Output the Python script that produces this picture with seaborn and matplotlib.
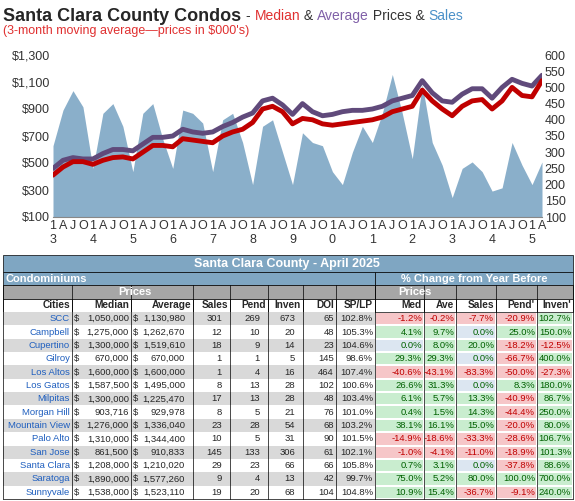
import matplotlib
matplotlib.use("Agg")
import matplotlib.pyplot as plt
import seaborn as sns
import numpy as np
import pandas as pd
from matplotlib.patches import Rectangle

# quarterly readings, Jan 2013 .. Apr 2025
median = [410, 470, 510, 510, 490, 520, 540, 545, 530, 580, 630, 630,
          620, 680, 670, 660, 650, 700, 730, 750, 800, 900, 920, 880,
          790, 830, 820, 790, 780, 790, 800, 810, 820, 840, 880, 900,
          920, 1040, 960, 900, 850, 920, 960, 970, 900, 960, 1060, 1000,
          990, 1110]
average = [460, 520, 540, 530, 530, 570, 600, 600, 590, 640, 690, 690,
           700, 750, 730, 720, 730, 770, 800, 840, 870, 960, 980, 930,
           860, 940, 880, 850, 860, 880, 890, 890, 900, 920, 960, 980,
           1000, 1110, 1020, 960, 950, 1010, 1050, 1050, 980, 1060, 1120, 1090,
           1070, 1150]
sales = [320, 430, 490, 440, 250, 420, 450, 380, 240, 420, 450, 340,
         250, 430, 420, 390, 240, 400, 420, 330, 200, 380, 400, 300,
         200, 360, 330, 320, 240, 200, 300, 380, 330, 420, 540, 420,
         280, 510, 330, 260, 160, 250, 270, 240, 180, 190, 330, 260,
         200, 270]
quarter_labels = ["1", "A", "J", "O"]
years = ["3", "4", "5", "6", "7", "8", "9", "0", "1", "2", "3", "4", "5"]

cities = ["SCC", "Campbell", "Cupertino", "Gilroy", "Los Altos", "Los Gatos", "Milpitas",
          "Morgan Hill", "Mountain View", "Palo Alto", "San Jose", "Santa Clara",
          "Saratoga", "Sunnyvale"]
med_price = [1050000, 1275000, 1300000, 670000, 1600000, 1587500, 1300000, 903716,
             1276000, 1310000, 861500, 1208000, 1890000, 1538000]
avg_price = [1130980, 1262670, 1519610, 670000, 1600000, 1495000, 1225470, 929978,
             1336040, 1344400, 910833, 1210020, 1577260, 1523110]
n_sales = [301, 12, 18, 1, 1, 8, 17, 8, 23, 10, 145, 29, 9, 19]
pend = [269, 10, 9, 1, 4, 13, 13, 5, 28, 5, 133, 23, 4, 20]
inven = [673, 20, 14, 5, 16, 28, 28, 21, 54, 31, 306, 66, 13, 68]
doi = [65, 48, 23, 145, 464, 102, 48, 76, 68, 90, 61, 66, 42, 104]
sp_lp = [102.8, 105.3, 104.6, 98.6, 107.4, 100.6, 103.4, 101.0, 103.2, 101.5, 102.1, 105.8, 99.7, 104.8]
chg_med = [-1.2, 4.1, 0.0, 29.3, -40.6, 26.6, 6.1, 0.4, 38.1, -14.9, -1.0, 0.7, 75.0, 10.9]
chg_ave = [-0.2, 9.7, 8.0, 29.3, -43.1, 31.3, 5.7, 1.5, 16.1, -18.6, -4.1, 3.1, 5.2, 15.4]
chg_sales = [-7.7, 0.0, 20.0, 0.0, -83.3, 0.0, 13.3, 14.3, 15.0, -33.3, -11.0, 0.0, 80.0, -36.7]
chg_pend = [-20.9, 25.0, -18.2, -66.7, -50.0, 8.3, -40.9, -44.4, -20.0, -28.6, -18.9, -37.8, 100.0, -9.1]
chg_inven = [102.7, 150.0, -12.5, 400.0, -27.3, 180.0, 86.7, 250.0, 80.0, 106.7, 101.3, 88.6, 700.0, 240.0]

sns.set_style("white")
plt.rcParams['font.family'] = ['Liberation Sans', 'DejaVu Sans']

fig = plt.figure(figsize=(5.75, 5.01), dpi=100)

# ---- background axes in pixel coords (titles + table)
bg = fig.add_axes([0, 0, 1, 1])
bg.set_xlim(0, 575)
bg.set_ylim(501, 0)
bg.axis("off")

bg.text(3, 16, "Santa Clara County Condos", fontsize=13, fontweight="bold", va="center")
x = 246
for s, c in [("- ", "#333333"), ("Median", "#e03030"), (" & ", "#333333"), ("Average", "#8060a8"),
             (" Prices & ", "#333333"), ("Sales", "#4a90c8")]:
    t = bg.text(x, 16, s, fontsize=10, va="center", color=c)
    fig.canvas.draw()
    x += t.get_window_extent().width
bg.text(3, 31, "(3-month moving average\u2014prices in $000's)", fontsize=9,
        va="center", color="#e03030")

# ---- chart
n = len(median)
df = pd.DataFrame({"q": np.arange(n), "median": median, "average": average, "sales": sales})

ax = fig.add_axes([53 / 575, 1 - 217 / 501, 489 / 575, 162 / 501])
ax2 = ax.twinx()
ax2.fill_between(df["q"], 100, df["sales"], color="#8aafca", lw=0)
ax2.set_ylim(100, 600)
ax2.set_yticks(range(100, 601, 50))
ax2.tick_params(axis="y", labelsize=9, colors="#333333", length=0, pad=2)
ax.set_zorder(ax2.get_zorder() + 1)
ax.patch.set_visible(False)

sns.lineplot(data=df, x="q", y="average", ax=ax, color="#604a7b", lw=3.5)
sns.lineplot(data=df, x="q", y="median", ax=ax, color="#c00000", lw=3.5)
ax.set_ylim(100, 1300)
ax.set_xlim(0, n - 1)
ax.set_yticks(range(100, 1301, 200))
ax.set_yticklabels([f"${v:,}" for v in range(100, 1301, 200)])
ax.set_xticks(df["q"])
labels = []
for i in range(n):
    lab = quarter_labels[i % 4]
    if i % 4 == 0:
        lab += "\n" + years[i // 4]
    labels.append(lab)
ax.set_xticklabels(labels, linespacing=1.3)
ax.tick_params(axis="both", labelsize=9, colors="#333333", length=0, pad=2)
ax.set_xlabel("")
ax.set_ylabel("")
for a in (ax, ax2):
    for sp in a.spines.values():
        sp.set_visible(False)
ax.spines["bottom"].set_visible(True)
ax.spines["bottom"].set_color("#888888")

# ---- table
cols = [3, 72, 131, 193, 230, 268, 303, 336, 375, 424, 456, 496, 537, 573]
hdr_blue = "#7fa6c2"
gray = "#a6a6a6"
fs = 6.8
y0 = 255


def cell(x0, x1, y, h, fc):
    bg.add_patch(Rectangle((x0, y), x1 - x0, h, fc=fc, ec="black", lw=0.5))


cell(3, 573, y0, 17, hdr_blue)
bg.text(287, y0 + 8.5, "Santa Clara County - April 2025", ha="center", va="center",
        color="white", fontsize=9, fontweight="bold")
y = y0 + 17
cell(3, 375, y, 13, hdr_blue)
cell(375, 573, y, 13, hdr_blue)
bg.text(5, y + 6.5, "Condominiums", va="center", color="white", fontsize=8, fontweight="bold")
bg.text(474, y + 6.5, "% Change from Year Before", ha="center", va="center", color="white",
        fontsize=8, fontweight="bold")
y += 13
cell(3, 375, y, 14, gray)
cell(375, 573, y, 14, gray)
bg.text(135, y + 7, "Prices", ha="center", va="center", color="white", fontsize=8, fontweight="bold")
bg.text(415, y + 7, "Prices", ha="center", va="center", color="white", fontsize=8, fontweight="bold")
y += 14
heads = ["Cities", "Median", "Average", "Sales", "Pend", "Inven", "DOI", "SP/LP",
         "Med", "Ave", "Sales", "Pend'", "Inven'"]
for j, hname in enumerate(heads):
    cell(cols[j], cols[j + 1], y, 13, "white")
    bg.text(cols[j + 1] - 2, y + 6.5, hname, ha="right", va="center", fontsize=7.3, fontweight="bold")
y += 13
rh = (499 - y) / len(cities)
for i, city in enumerate(cities):
    fc = "#d9d9d9" if i % 2 == 0 else "white"
    bg.add_patch(Rectangle((3, y), 372, rh, fc=fc, ec="none"))
    yc = y + rh / 2
    bg.text(cols[1] - 2, yc, city, ha="right", va="center", fontsize=fs, color="#1f5fbf")
    for j, val in enumerate([med_price[i], avg_price[i]]):
        c0, c1 = cols[1 + j], cols[2 + j]
        bg.text(c0 + 2, yc, "$", va="center", fontsize=fs)
        bg.text(c1 - 2 - (6 if j else 0), yc, f"{val:,}", ha="right", va="center", fontsize=fs)
    for j, val in enumerate([n_sales[i], pend[i], inven[i], doi[i]]):
        bg.text(cols[4 + j] - 8 + (6 if j == 3 else 0), yc, str(val), ha="right",
                va="center", fontsize=fs)
    bg.text(cols[8] - 2, yc, f"{sp_lp[i]:.1f}%", ha="right", va="center", fontsize=fs)
    for j, val in enumerate([chg_med[i], chg_ave[i], chg_sales[i], chg_pend[i], chg_inven[i]]):
        if val < 0:
            cf, tc = "#f6c6c8", "#c00000"
        elif val > 0:
            cf, tc = "#c9edcf", "#006100"
        else:
            cf, tc = "#dce6f1", "#006100"
        bg.add_patch(Rectangle((cols[8 + j] + 1, y + 1), cols[9 + j] - cols[8 + j] - 2, rh - 2,
                               fc=cf, ec="none"))
        bg.text(cols[9 + j] - 2, yc, f"{val:.1f}%", ha="right", va="center",
                fontsize=fs, color=tc)
    y += rh
# column borders for data
for xc in cols:
    bg.plot([xc, xc], [y0 + 30, 499], color="black", lw=0.5)
bg.plot([3, 573], [499, 499], color="black", lw=0.5)

fig.savefig("out.png", dpi=100)
